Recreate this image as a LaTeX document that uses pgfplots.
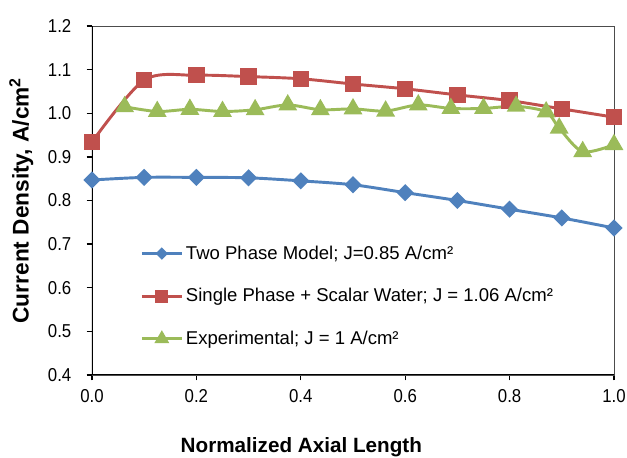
\documentclass[border=0pt]{standalone}
\usepackage{fontspec}
\setmainfont{Liberation Sans}
\newfontfamily\narrowfont{Liberation Sans}[FakeStretch=0.9]
\usepackage{pgfplots}
\pgfplotsset{compat=1.18}
\usetikzlibrary{calc}

\definecolor{xlblue}{HTML}{4F81BD}
\definecolor{xlred}{HTML}{C0504D}
\definecolor{xlgreen}{HTML}{9BBB59}

% smaller markers in the legend than on the curves
\pgfplotsset{
  legimg/.style={legend image code/.code={%
    \draw[##1, mark size=#1, mark repeat=2, mark phase=2]
      plot coordinates {(0pt,0pt) (15pt,0pt) (30pt,0pt)};}},
}

\begin{document}
\begin{tikzpicture}
\begin{axis}[
    scale only axis,
    width=391.5pt, height=261.75pt,
    xmin=0, xmax=1, ymin=0.4, ymax=1.2,
    xtick={0,0.2,...,1.0}, ytick={0.4,0.5,...,1.2},
    xtick pos=bottom, ytick pos=left,
    tick align=outside,
    major tick length=4pt,
    tick style={black, line width=1pt},
    axis line style={draw=black!70, line width=0.6pt},
    /pgf/number format/.cd, fixed, fixed zerofill, precision=1, assume math mode=true,
    /pgfplots/.cd,
    tick label style={font=\narrowfont\fontsize{14}{16}\selectfont},
    yticklabel style={xshift=-8pt},
    xticklabel style={yshift=-3pt},
    xlabel={\bfseries Normalized Axial Length},
    ylabel={\bfseries Current Density, A/cm\textsuperscript{2}},
    xlabel style={font=\fontsize{15.5}{18}\selectfont, at={(rel axis cs:0.401,-0.2235)}, anchor=base},
    ylabel style={font=\fontsize{17}{20}\selectfont, at={(rel axis cs:-0.1354,0.5)}, anchor=center},
    legend style={at={(0.0845,0.386)}, anchor=north west, draw=none, fill=none,
        font=\fontsize{13.9}{16}\selectfont, row sep=16.4pt, legend cell align=left},
]
\addplot[xlblue, line width=2.2pt, smooth, mark=square*, mark size=3.45pt, mark options={rotate=45}, legimg=2.2pt]
coordinates {(0.0,0.847) (0.1,0.853) (0.2,0.853) (0.3,0.852) (0.4,0.845) (0.5,0.836)
             (0.6,0.818) (0.7,0.800) (0.8,0.780) (0.9,0.760) (1.0,0.737)};
\addlegendentry{Two Phase Model; J=0.85 A/cm²}
\addplot[xlred, line width=2.2pt, smooth, mark=square*, mark size=5pt, legimg=3.7pt]
coordinates {(0.0,0.934) (0.1,1.076) (0.2,1.087) (0.3,1.084) (0.4,1.079) (0.5,1.067)
             (0.6,1.056) (0.7,1.042) (0.8,1.029) (0.9,1.010) (1.0,0.991)};
\addlegendentry{Single Phase + Scalar Water; J = 1.06 A/cm²}
\addplot[xlgreen, line width=2.2pt, smooth, mark=triangle*, mark size=6pt, legimg=4.3pt]
coordinates {(0.0625,1.015) (0.125,1.004) (0.1875,1.009) (0.25,1.004) (0.3125,1.008)
             (0.375,1.019) (0.4375,1.008) (0.5,1.010) (0.5625,1.005) (0.625,1.019)
             (0.6875,1.011) (0.75,1.011) (0.8125,1.016) (0.87,1.003) (0.895,0.966)
             (0.94,0.912) (1.0,0.928)};
\addlegendentry{Experimental; J = 1 A/cm²}
\draw[black, line width=1pt] (rel axis cs:0,1) -- (rel axis cs:0,0) -- (rel axis cs:1,0);
\end{axis}
\pgfresetboundingbox
\path[use as bounding box] ($(current axis.south west)+(-69pt,-62.25pt)$) rectangle ($(current axis.north east)+(9.75pt,19.5pt)$);
\end{tikzpicture}
\end{document}
